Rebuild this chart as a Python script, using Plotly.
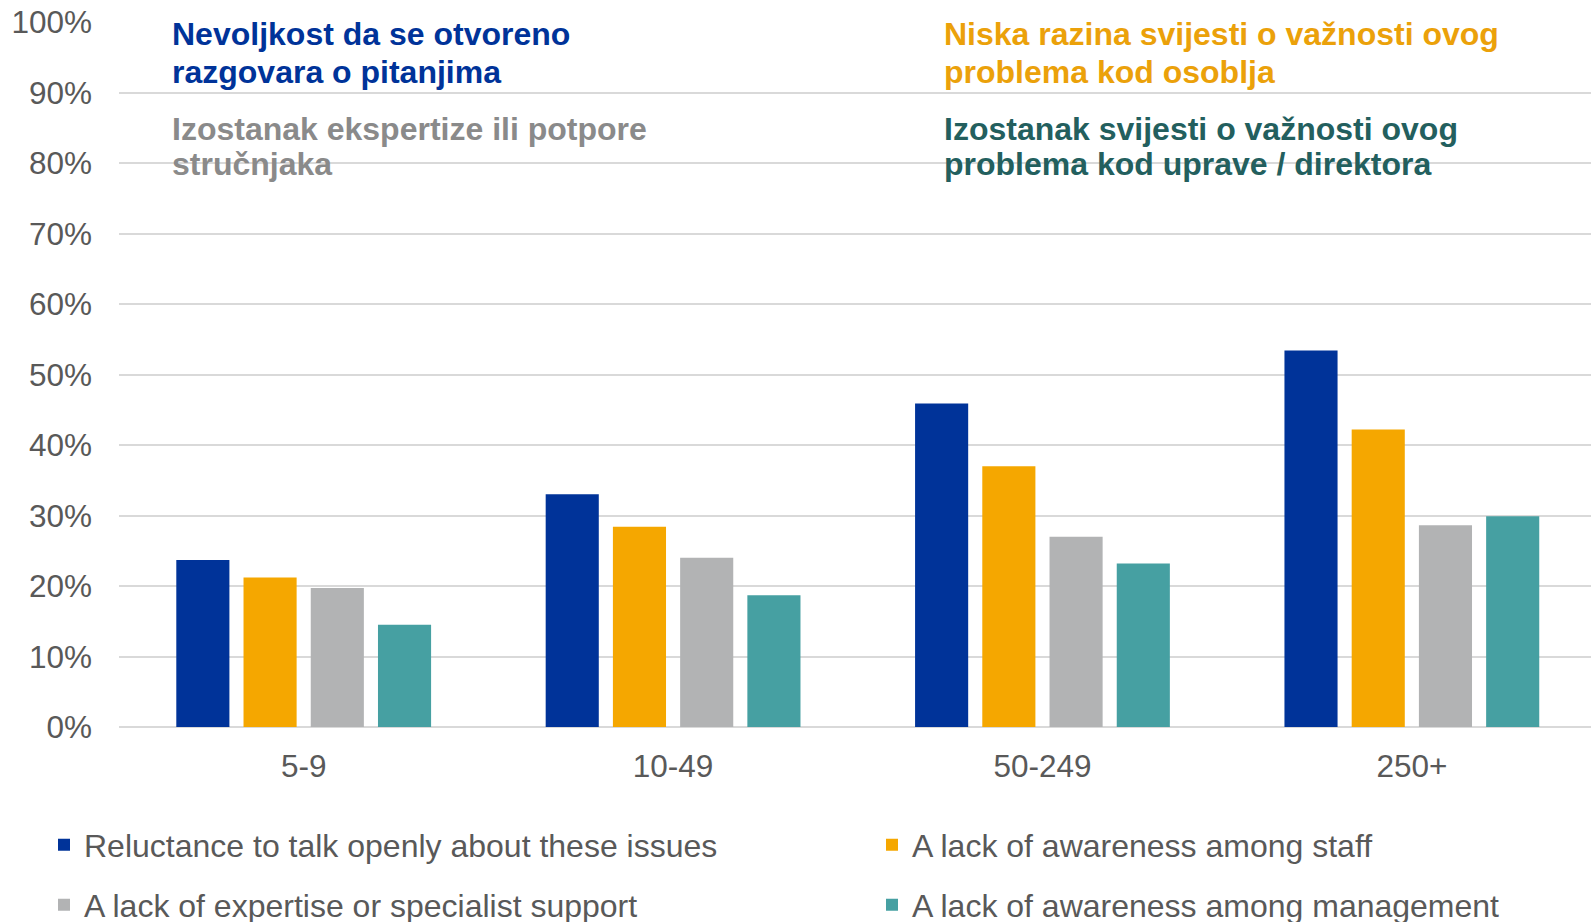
import plotly.graph_objects as go

categories = ["5-9", "10-49", "50-249", "250+"]
series_names = [
    "Reluctance to talk openly about these issues",
    "A lack of awareness among staff",
    "A lack of expertise or specialist support",
    "A lack of awareness among management",
]
reluctance = [23.7, 33.0, 45.9, 53.4]
awareness_staff = [21.2, 28.4, 37.0, 42.2]
expertise = [19.7, 24.0, 27.0, 28.6]
awareness_mgmt = [14.5, 18.7, 23.2, 29.9]
series_values = [reluctance, awareness_staff, expertise, awareness_mgmt]
bar_colors = ["#003399", "#F5A700", "#B2B3B4", "#46A0A2"]
legend_ids = ["legend", "legend2", "legend", "legend2"]

ann_texts = [
    ["Nevoljkost da se otvoreno", "razgovara o pitanjima"],
    ["Niska razina svijesti o važnosti ovog", "problema kod osoblja"],
    ["Izostanak ekspertize ili potpore", "stručnjaka"],
    ["Izostanak svijesti o važnosti ovog", "problema kod uprave / direktora"],
]
ann_colors = ["#003399", "#EBA10A", "#8A8A8A", "#235F5E"]

FONT = "Liberation Sans, Arial, sans-serif"
W, H = 1591, 922
ML, MR, MT, MB = 119, 0, 21.5, 195
PW = W - ML - MR
PH = H - MT - MB

def px_x(x):
    return (x - ML) / PW

def px_y(y):
    return (H - MB - y) / PH

fig = go.Figure()
for i, (name, vals, col, lg) in enumerate(zip(series_names, series_values, bar_colors, legend_ids)):
    fig.add_trace(go.Bar(
        x=categories, y=vals, name=name,
        marker=dict(color=col, line=dict(width=0)),
        legend=lg, legendgroup=f"g{i}",
    ))

ann_x = [171, 943, 171, 943]
ann_y = [[34, 71.5], [34, 71.5], [128.5, 164], [128.5, 164]]
annotations = []
for lines, col, ax, ays in zip(ann_texts, ann_colors, ann_x, ann_y):
    for line, ay in zip(lines, ays):
        annotations.append(dict(
            text=f"<b>{line}</b>", x=px_x(ax), y=px_y(ay), xref="paper", yref="paper",
            xanchor="left", yanchor="middle", showarrow=False,
            font=dict(family=FONT, size=32, color=col), borderpad=0,
        ))

leg_common = dict(
    orientation="v", xanchor="left", yanchor="top", traceorder="grouped",
    tracegroupgap=15.5, bgcolor="rgba(0,0,0,0)", borderwidth=0,
    font=dict(family=FONT, size=32, color="#595959"),
)

fig.update_layout(
    width=W, height=H,
    margin=dict(l=ML, r=MR, t=MT, b=MB, autoexpand=False),
    paper_bgcolor="white", plot_bgcolor="white",
    barmode="group", bargap=0.272, bargroupgap=0.21,
    font=dict(family=FONT, color="#595959"),
    annotations=annotations,
    legend=dict(x=px_x(44), y=px_y(817.5), **leg_common),
    legend2=dict(x=px_x(872), y=px_y(817.5), **leg_common),
    xaxis=dict(
        type="category", range=[-0.5, 3.485], showgrid=False, showline=False, ticks="",
        tickfont=dict(family=FONT, size=31.5, color="#595959"),
        ticklabelstandoff=17,
    ),
    yaxis=dict(
        range=[0, 100], dtick=10, ticksuffix="%",
        showgrid=True, gridcolor="#D9D9D9", gridwidth=2,
        zeroline=True, zerolinecolor="#D9D9D9", zerolinewidth=2,
        showline=False, ticks="",
        tickfont=dict(family=FONT, size=31.5, color="#595959"),
        ticklabelstandoff=26,
    ),
    showlegend=True,
)

fig.write_html(
    "out.html",
    config={"displayModeBar": False},
    post_script="document.body.style.margin='0';document.body.style.overflow='hidden';",
)
